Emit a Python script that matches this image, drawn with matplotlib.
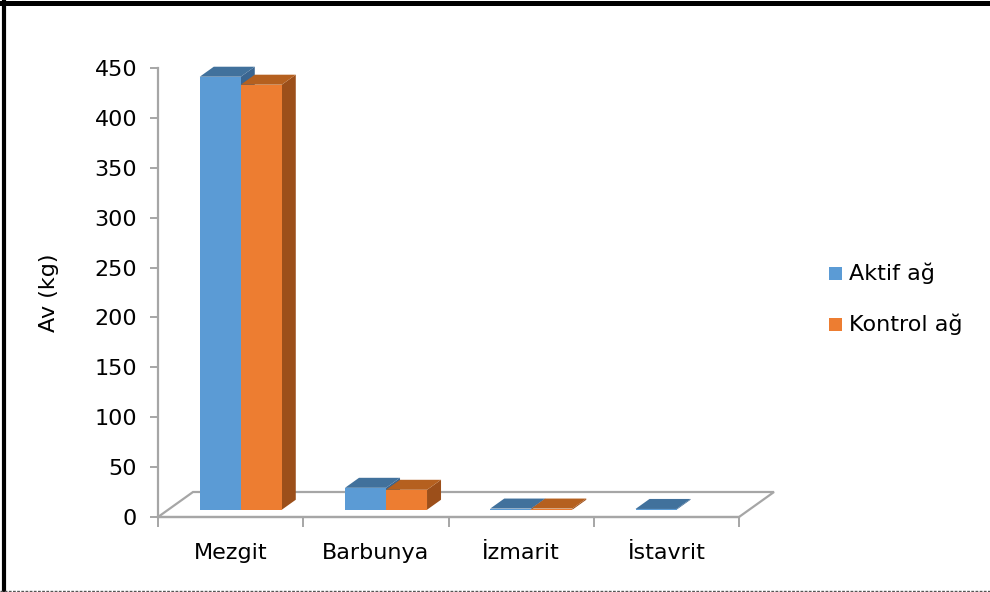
import matplotlib
matplotlib.use("Agg")
import matplotlib.pyplot as plt
from matplotlib.patches import Polygon, Rectangle
from matplotlib.lines import Line2D
import numpy as np

# Catch per species (kg) for the two net types
categories = ["Mezgit", "Barbunya", "İzmarit", "İstavrit"]
aktif = [434, 22, 1.2, 0.8]
kontrol = [426, 20, 1.2, 0.0]
series_names = ["Aktif ağ", "Kontrol ağ"]
yticks = [0, 50, 100, 150, 200, 250, 300, 350, 400, 450]

FONT = ["DejaVu Sans"]
FS = 16
W, H, DPI = 990, 592, 100
fig = plt.figure(figsize=(W / DPI, H / DPI), dpi=DPI)
fig.patch.set_facecolor("white")

# plot area in pixels (front edge of floor / value axis)
px_left, px_right, px_bottom, px_top = 158, 739, 517, 68
ax = fig.add_axes([px_left / W, 1 - px_bottom / H,
                   (px_right - px_left) / W, (px_bottom - px_top) / H])
n = len(categories)
ax.set_xlim(-0.5, n - 0.5)
ax.set_ylim(0, 450)
ax.patch.set_alpha(0)

# pixel -> data conversion factors
sx = n / (px_right - px_left)
sy = 450 / (px_bottom - px_top)

# depth vector of the 3-D floor (pixels right, pixels up)
D = np.array([35.0 * sx, 25.0 * sy])
front_frac, back_frac = 0.29, 0.69
bar_w = 41 * sx

grid_col = "#a6a6a6"

# floor
floor = [(-0.5, 0), (n - 0.5, 0), (n - 0.5 + D[0], D[1]), (-0.5 + D[0], D[1])]
ax.add_patch(Polygon(floor, closed=True, facecolor="white", edgecolor=grid_col,
                     linewidth=1.6, clip_on=False, zorder=1))

colors = {
    "Aktif ağ": ("#5b9bd5", "#41719c", "#3a6590"),
    "Kontrol ağ": ("#ed7d31", "#b5601f", "#9c4f1a"),
}


def draw_bar(x0, v, cols):
    front, top, side = cols
    fx, fy = front_frac * D
    bx, by = back_frac * D
    x1 = x0 + bar_w
    # side face
    ax.add_patch(Polygon([(x1 + fx, fy), (x1 + bx, by), (x1 + bx, by + v), (x1 + fx, fy + v)],
                         closed=True, facecolor=side, edgecolor="none", clip_on=False, zorder=3))
    # top face
    ax.add_patch(Polygon([(x0 + fx, fy + v), (x1 + fx, fy + v), (x1 + bx, by + v), (x0 + bx, by + v)],
                         closed=True, facecolor=top, edgecolor="none", clip_on=False, zorder=3))
    # front face
    ax.add_patch(Rectangle((x0 + fx, fy), bar_w, v, facecolor=front, edgecolor="none",
                           clip_on=False, zorder=3))


for i in range(n):
    for j, (name, vals) in enumerate(zip(series_names, [aktif, kontrol])):
        if vals[i] <= 0:
            continue
        x0 = i - bar_w + j * bar_w
        draw_bar(x0, vals[i], colors[name])

# value axis
for s in ["top", "right"]:
    ax.spines[s].set_visible(False)
ax.spines["left"].set_color(grid_col)
ax.spines["left"].set_linewidth(1.6)
ax.spines["bottom"].set_color(grid_col)
ax.spines["bottom"].set_linewidth(1.6)
ax.set_yticks(yticks)
ax.tick_params(axis="y", direction="out", length=6, width=1.4, color=grid_col,
               labelsize=FS, pad=9, labelcolor="#000000")
ax.set_xticks(np.arange(-0.5, n, 1.0))
ax.set_xticklabels([])
ax.tick_params(axis="x", which="major", direction="out", length=7, width=1.4, color=grid_col)
ax.set_xticks(np.arange(n), minor=True)
ax.set_xticklabels(categories, minor=True)
ax.tick_params(axis="x", which="minor", length=0, labelsize=FS, pad=19)
for lbl in ax.get_xticklabels(minor=True) + ax.get_yticklabels():
    lbl.set_family(FONT)
ax.set_ylabel("Av (kg)", fontsize=FS, family=FONT)
ax.yaxis.set_label_coords((59 - px_left) / (px_right - px_left), 0.5)

# legend
leg_items = [(273, series_names[0]), (324, series_names[1])]
for ypx, name in leg_items:
    fig.patches.append(Rectangle((829 / W, 1 - (ypx + 7) / H), 13 / W, 13 / H,
                                 transform=fig.transFigure, facecolor=colors[name][0],
                                 edgecolor="none"))
    fig.text(849 / W, 1 - ypx / H, name, fontsize=FS, va="center", ha="left",
             family=FONT, color="#000000")

# frame
fig.add_artist(Line2D([0, 1], [1 - 2.5 / H, 1 - 2.5 / H], color="black", lw=3.6,
                      transform=fig.transFigure))
fig.add_artist(Line2D([4 / W, 4 / W], [0, 1], color="black", lw=3.0,
                      transform=fig.transFigure))
fig.add_artist(Line2D([0, 1], [1.5 / H, 1.5 / H], color="#555555", lw=1.0, ls=(0, (2, 1)),
                      transform=fig.transFigure))

fig.savefig("out.png", dpi=DPI)
